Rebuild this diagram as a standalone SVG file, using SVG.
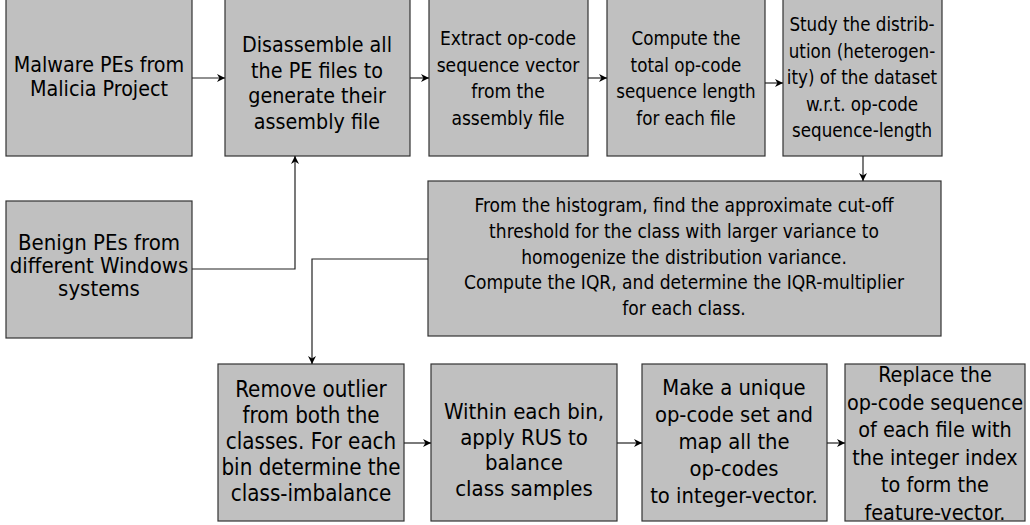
<svg xmlns="http://www.w3.org/2000/svg" width="1030" height="525" viewBox="0 0 1030 525">
<defs>
<marker id="ah" viewBox="0 0 10 10" refX="10" refY="5" markerWidth="8" markerHeight="8" markerUnits="userSpaceOnUse" orient="auto">
<path d="M0,0 L10,5 L0,10 L3,5 Z" fill="#000"/>
</marker>
</defs>
<style>
rect{fill:#c0c0c0;stroke:#333;stroke-width:1.2}
text{font-family:"DejaVu Sans Condensed","DejaVu Sans","Liberation Sans",sans-serif;font-stretch:condensed;font-size:21px;fill:#000;text-anchor:middle}
.c{fill:none;stroke:#222;stroke-width:1.2;marker-end:url(#ah)}
</style>
<rect x="0" y="0" width="1030" height="525" style="fill:#fff;stroke:none"/>
<g id="n1"><rect x="6" y="-1" width="186" height="157"/>
<text x="99" y="72" style="font-size:21.3px">Malware PEs from<tspan x="99" dy="24">Malicia Project</tspan></text></g>
<g id="n2"><rect x="225" y="-1" width="185" height="157"/>
<text x="317" y="52" style="font-size:21.3px">Disassemble all<tspan x="317" dy="25.5">the PE files to</tspan><tspan x="317" dy="25.5">generate their</tspan><tspan x="317" dy="25.5">assembly file</tspan></text></g>
<g id="n3"><rect x="429" y="-1" width="159" height="157"/>
<text x="508" y="45" style="font-size:19.1px">Extract op-code<tspan x="508" dy="26.5">sequence vector</tspan><tspan x="508" dy="26.5">from the</tspan><tspan x="508" dy="26.5">assembly file</tspan></text></g>
<g id="n4"><rect x="607" y="-1" width="158" height="157"/>
<text x="686" y="45" style="font-size:18.6px">Compute the<tspan x="686" dy="26.5">total op-code</tspan><tspan x="686" dy="26.5">sequence length</tspan><tspan x="686" dy="26.5">for each file</tspan></text></g>
<g id="n5"><rect x="783" y="-1" width="159" height="157"/>
<text x="862" y="31" style="font-size:18.6px">Study the distrib-<tspan x="862" dy="26.5">ution (heterogen-</tspan><tspan x="862" dy="26.5">ity) of the dataset</tspan><tspan x="862" dy="26.5">w.r.t. op-code</tspan><tspan x="862" dy="26.5">sequence-length</tspan></text></g>
<g id="n6"><rect x="428" y="181" width="513" height="155"/>
<text x="684" y="212" style="font-size:19px">From the histogram, find the approximate cut-off<tspan x="684" dy="25.8">threshold for the class with larger variance to</tspan><tspan x="684" dy="25.8">homogenize the distribution variance.</tspan><tspan x="684" dy="25.8">Compute the IQR, and determine the IQR-multiplier</tspan><tspan x="684" dy="25.8">for each class.</tspan></text></g>
<g id="n7"><rect x="6" y="201" width="186" height="137"/>
<text x="99" y="250" style="font-size:22px">Benign PEs from<tspan x="99" dy="23">different Windows</tspan><tspan x="99" dy="23">systems</tspan></text></g>
<g id="n8"><rect x="218" y="364" width="186" height="157"/>
<text x="311" y="397" style="font-size:22.2px">Remove outlier<tspan x="311" dy="26">from both the</tspan><tspan x="311" dy="26">classes. For each</tspan><tspan x="311" dy="26">bin determine the</tspan><tspan x="311" dy="26">class-imbalance</tspan></text></g>
<g id="n9"><rect x="431" y="364" width="186" height="157"/>
<text x="524" y="419" style="font-size:22px">Within each bin,<tspan x="524" dy="25.5">apply RUS to</tspan><tspan x="524" dy="25.5">balance</tspan><tspan x="524" dy="25.5">class samples</tspan></text></g>
<g id="n10"><rect x="642" y="364" width="185" height="157"/>
<text x="734" y="395" style="font-size:21.8px">Make a unique<tspan x="734" dy="27">op-code set and</tspan><tspan x="734" dy="27">map all the</tspan><tspan x="734" dy="27">op-codes</tspan><tspan x="734" dy="27">to integer-vector.</tspan></text></g>
<g id="n11"><rect x="845" y="364" width="180" height="157"/>
<text x="935" y="382" style="font-size:21.4px">Replace the<tspan x="935" dy="27.5">op-code sequence</tspan><tspan x="935" dy="27.5">of each file with</tspan><tspan x="935" dy="27.5">the integer index</tspan><tspan x="935" dy="27.5">to form the</tspan><tspan x="935" dy="27.5">feature-vector.</tspan></text></g>
<g id="connectors">
<path class="c" d="M192,78 H225"/>
<path class="c" d="M410,78 H429"/>
<path class="c" d="M588,78 H607"/>
<path class="c" d="M765,83 H783"/>
<path class="c" d="M863,156 V181"/>
<path class="c" d="M192,269 H295 V156"/>
<path class="c" d="M428,259 H312 V364"/>
<path class="c" d="M404,443 H431"/>
<path class="c" d="M617,443 H642"/>
<path class="c" d="M827,443 H845"/>
</g>
</svg>
